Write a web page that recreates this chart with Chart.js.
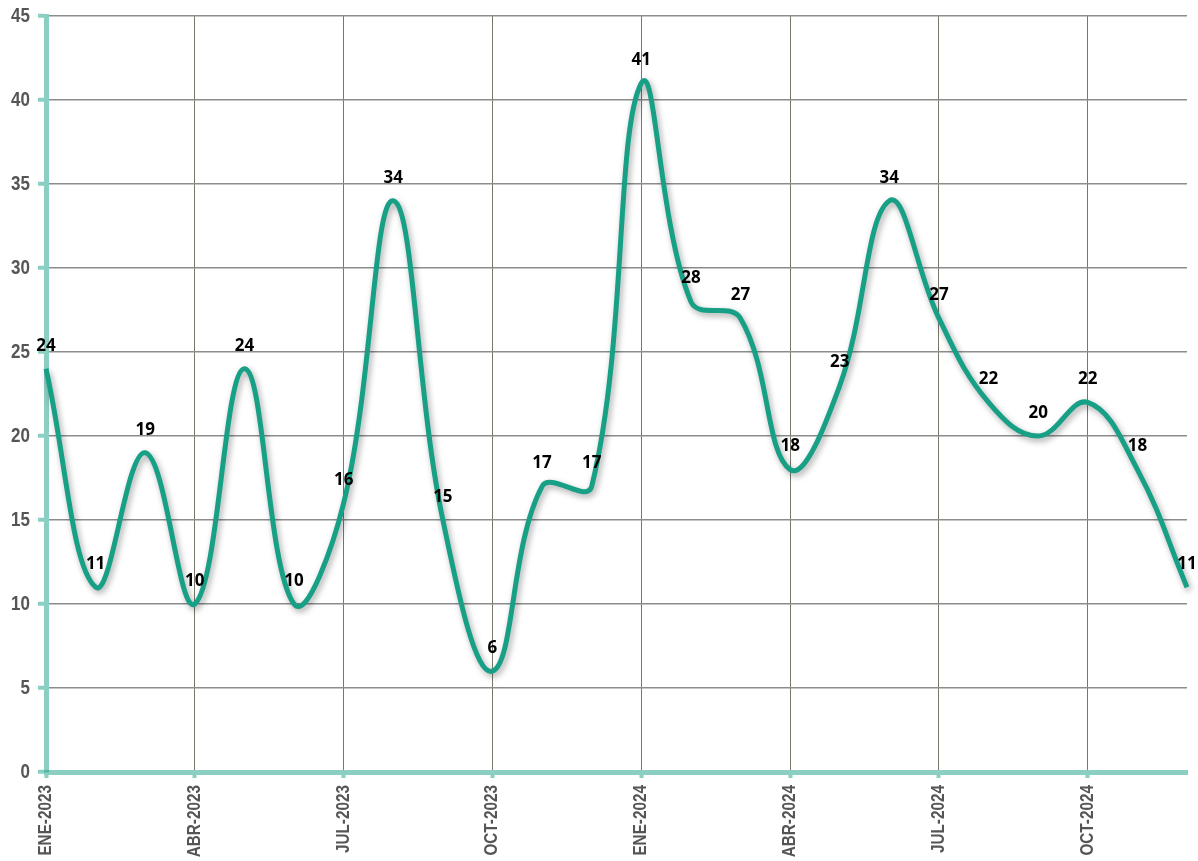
<!DOCTYPE html>
<html>
<head>
<meta charset="utf-8">
<script src="https://cdn.jsdelivr.net/npm/chart.js@4"></script>
<style>
  html, body { margin: 0; padding: 0; background: #fff; }
  #wrap { width: 1198px; height: 861px; position: relative; }
</style>
</head>
<body>
<div id="wrap"><canvas id="c"></canvas></div>
<script>
const MONTHS = ['ENE', 'FEB', 'MAR', 'ABR', 'MAY', 'JUN', 'JUL', 'AGO', 'SEP', 'OCT', 'NOV', 'DIC'];
const YEARS = ['2023', '2024'];
const labels = YEARS.flatMap(y => MONTHS.map(m => m + '-' + y));

const values = [24, 11, 19, 10, 24, 10, 16, 34, 15, 6, 17, 17,
                41, 28, 27, 18, 23, 34, 27, 22, 20, 22, 18, 11];

const Y_MAX = 45;
const Y_STEP = 5;

const LINE_COLOR = '#17a086';
const AXIS_COLOR = 'rgba(23,160,134,0.5)';
const TICK_COLOR = '#555';
const NARROW = 0.85; // squeeze tick text to look like a narrow face

const shadowPlugin = {
  id: 'lineShadow',
  beforeDatasetsDraw(chart) {
    const ctx = chart.ctx;
    ctx.save();
    ctx.shadowColor = 'rgba(0,0,0,0.35)';
    ctx.shadowBlur = 6;
    ctx.shadowOffsetX = 2;
    ctx.shadowOffsetY = 3;
  },
  afterDatasetsDraw(chart) {
    chart.ctx.restore();
  },
};

// condensed tick labels, drawn by hand since no narrow font is installed
const tickTextPlugin = {
  id: 'tickText',
  afterDraw(chart) {
    const ctx = chart.ctx;
    const { x, y } = chart.scales;
    ctx.save();
    ctx.fillStyle = TICK_COLOR;
    ctx.font = 'bold 20px "Liberation Sans", Arial, sans-serif';
    ctx.textAlign = 'right';
    ctx.textBaseline = 'middle';
    y.ticks.forEach(t => {
      const py = y.getPixelForValue(t.value);
      ctx.save();
      ctx.translate(30, py);
      ctx.scale(NARROW, 1);
      ctx.fillText(String(t.value), 0, 0);
      ctx.restore();
    });
    ctx.font = 'bold 18px "Liberation Sans", Arial, sans-serif';
    ctx.textAlign = 'right';
    ctx.textBaseline = 'middle';
    labels.forEach((lab, i) => {
      if (i % 3 !== 0) return;
      const px = x.getPixelForValue(i);
      ctx.save();
      ctx.translate(px, 785);
      ctx.rotate(-Math.PI / 2);
      ctx.scale(NARROW, 1);
      ctx.fillText(lab, 0, 0);
      ctx.restore();
    });
    ctx.restore();
  },
};

const labelPlugin = {
  id: 'pointLabels',
  afterDraw(chart) {
    const ctx = chart.ctx;
    const meta = chart.getDatasetMeta(0);
    ctx.save();
    ctx.font = 'bold 17px "Noto Sans", "Open Sans", sans-serif';
    ctx.fillStyle = '#000';
    ctx.textAlign = 'center';
    ctx.textBaseline = 'middle';
    meta.data.forEach((pt, i) => {
      ctx.fillText(String(values[i]), pt.x, pt.y - 23);
    });
    ctx.restore();
  },
};

new Chart(document.getElementById('c'), {
  type: 'line',
  data: {
    labels,
    datasets: [{
      data: values,
      borderColor: LINE_COLOR,
      borderWidth: 5,
      tension: 0.4,
      pointRadius: 0,
      fill: false,
      clip: false,
    }],
  },
  options: {
    responsive: true,
    maintainAspectRatio: false,
    animation: false,
    layout: { padding: { top: 16, right: 11, left: 0, bottom: 0 } },
    plugins: {
      legend: { display: false },
      tooltip: { enabled: false },
    },
    scales: {
      x: {
        offset: false,
        border: { color: AXIS_COLOR, width: 5 },
        grid: {
          color: ctx => (ctx.index % 3 === 0 && ctx.index > 0) ? '#77776a' : 'rgba(0,0,0,0)',
          lineWidth: 1,
          tickColor: ctx => (ctx.index % 3 === 0) ? AXIS_COLOR : 'rgba(0,0,0,0)',
          tickLength: 6,
          tickWidth: 4,
        },
        ticks: { display: false, autoSkip: false },
        afterFit(scale) {
          scale.height = 89;
          scale.paddingLeft = 0;
          scale.paddingRight = 0;
        },
      },
      y: {
        min: 0,
        max: Y_MAX,
        border: { color: AXIS_COLOR, width: 5 },
        grid: {
          color: ctx => ctx.index === 0 ? 'rgba(0,0,0,0)' : '#8c8c8c',
          lineWidth: 1.5,
          tickColor: AXIS_COLOR,
          tickLength: 8,
          tickWidth: 4,
        },
        ticks: { display: false, stepSize: Y_STEP },
        afterFit(scale) {
          scale.width = 46;
          scale.paddingTop = 0;
          scale.paddingBottom = 0;
        },
      },
    },
  },
  plugins: [shadowPlugin, tickTextPlugin, labelPlugin],
});
</script>
</body>
</html>
